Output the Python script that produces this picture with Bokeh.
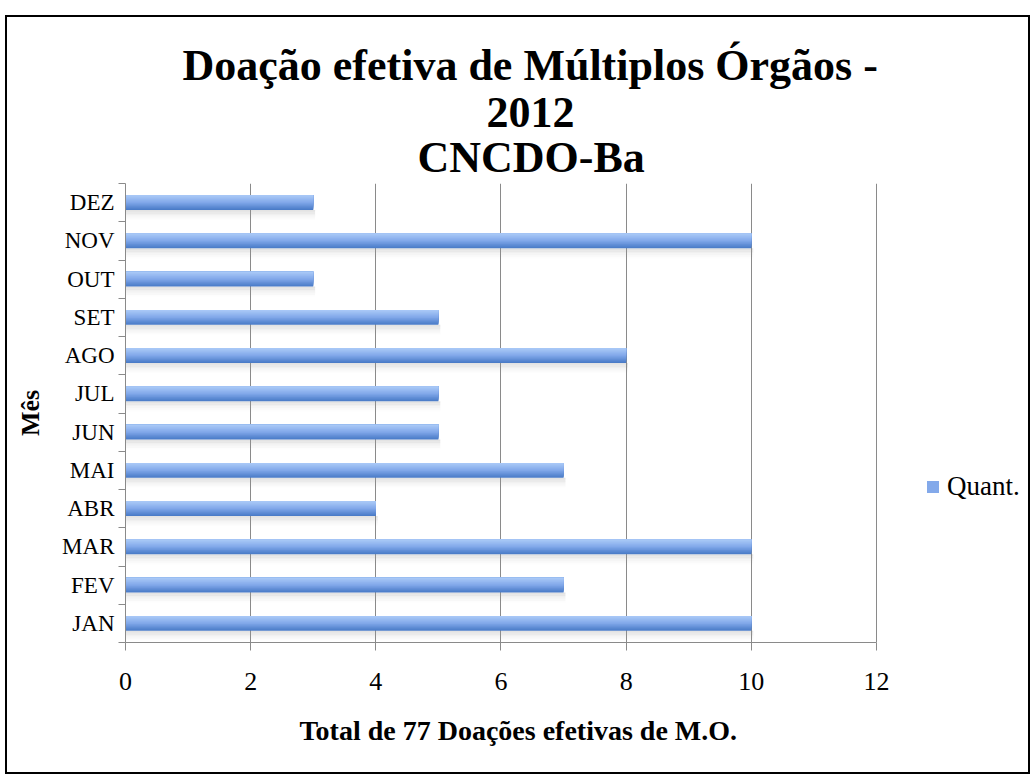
import numpy as np
from bokeh.plotting import figure
from bokeh.models import Range1d, FixedTicker, Title, Legend, LegendItem
from bokeh.embed import file_html
from bokeh.resources import INLINE

# ---- data ----
months = ["JAN", "FEV", "MAR", "ABR", "MAI", "JUN", "JUL", "AGO", "SET", "OUT", "NOV", "DEZ"]
quant = [10, 7, 10, 4, 7, 5, 5, 8, 5, 3, 10, 3]
x_ticks = [0, 2, 4, 6, 8, 10, 12]

title_lines = ["Doação efetiva de Múltiplos Órgãos -", "2012", "CNCDO-Ba"]
x_label = "Total de 77 Doações efetivas de M.O."
y_label = "Mês"
series_name = "Quant."

FONT = "Liberation Serif"
W, H = 1025, 759
GRAY = "#8a8a8a"
X_MAX = 12
X_VIEW_END = 14.365   # frame continues to the right to host the legend

p = figure(width=W, height=H, output_backend="svg", toolbar_location=None,
           x_range=Range1d(0, X_VIEW_END), y_range=Range1d(0, len(months)),
           min_border_left=118, min_border_right=8,
           min_border_top=166, min_border_bottom=134)
p.styles = {"border": "2px solid #000", "box-sizing": "border-box",
            "margin-left": "5px", "margin-top": "15px"}
p.background_fill_color = "white"
p.border_fill_color = "white"
p.outline_line_color = None

y_center = np.arange(len(months)) + 0.5
vals = np.array(quant, dtype=float)

# shadow beneath the bars
bar_h = 0.39
NS = 6
sh_h = 0.26
for k in range(NS):
    yy = y_center - bar_h / 2 - (k + 0.5) * sh_h / NS
    p.hbar(y=yy, right=vals + 0.03, left=0, height=sh_h / NS * 1.05,
           fill_color="#9a9a9a", fill_alpha=0.28 * (1 - k / NS) ** 1.5, line_color=None)

# gradient bars: nested layers (dark bottom first, lighter layers over the top part)
top = np.array([172, 203, 248])
mid = np.array([128, 167, 233])
bot = np.array([70, 120, 197])
N = 16
r_mid = None
bar_top = y_center + bar_h / 2
for k in range(N):
    t = 1 - (k + 0.5) / N  # 1 = bottom, 0 = top
    if t < 0.5:
        c = top + (mid - top) * (t / 0.5)
    else:
        c = mid + (bot - mid) * ((t - 0.5) / 0.5)
    col = "#%02x%02x%02x" % tuple(int(round(v)) for v in c)
    h = bar_h * (N - k) / N
    yy = bar_top - h / 2
    r = p.hbar(y=yy, right=vals, left=0, height=h, fill_color=col, line_color=None)
    if k == N // 2:
        r_mid = r

# grid
p.xgrid.ticker = FixedTicker(ticks=x_ticks)
p.xgrid.grid_line_color = GRAY
p.xgrid.grid_line_width = 1
p.ygrid.visible = False

# x axis
p.xaxis.bounds = (0, X_MAX)
p.xaxis.ticker = FixedTicker(ticks=x_ticks, minor_ticks=[])
p.xaxis.axis_line_color = GRAY
p.xaxis.major_tick_line_color = GRAY
p.xaxis.major_tick_in = 0
p.xaxis.major_tick_out = 8
p.xaxis.major_label_text_font = FONT
p.xaxis.major_label_text_font_size = "26px"
p.xaxis.major_label_text_color = "#000000"
p.xaxis.major_label_standoff = 22

# x axis caption, centred under the chart as in the reference
p.add_layout(Title(text=x_label, align="left", offset=174, text_font=FONT,
                   text_font_size="28px", text_font_style="bold",
                   text_color="#000000", standoff=40), "below")

# y axis
p.yaxis.ticker = FixedTicker(ticks=list(y_center), minor_ticks=list(range(len(months) + 1)))
p.yaxis.major_label_overrides = {float(y): m for y, m in zip(y_center, months)}
p.yaxis.axis_line_color = GRAY
p.yaxis.major_tick_in = 0
p.yaxis.major_tick_out = 0
p.yaxis.minor_tick_in = 0
p.yaxis.minor_tick_out = 7
p.yaxis.minor_tick_line_color = GRAY
p.yaxis.major_label_text_font = FONT
p.yaxis.major_label_text_font_size = "23px"
p.yaxis.major_label_text_color = "#000000"
p.yaxis.major_label_standoff = 4
p.yaxis.axis_label = y_label
p.yaxis.axis_label_text_font = FONT
p.yaxis.axis_label_text_font_style = "bold"
p.yaxis.axis_label_text_font_size = "26px"
p.yaxis.axis_label_text_color = "#000000"
p.yaxis.axis_label_standoff = 14

# titles: figure title is outermost, added titles stack toward the plot
TSIZE = "44px"
p.title.text = title_lines[0]
p.title.align = "left"
p.title.offset = 57
p.title.text_font = FONT
p.title.text_font_size = TSIZE
p.title.text_font_style = "bold"
p.title.text_color = "#000000"
p.title.standoff = 6
for line, off, so in [(title_lines[2], 292, 3), (title_lines[1], 361, 6)]:
    p.add_layout(Title(text=line, align="left", offset=off, text_font=FONT,
                       text_font_size=TSIZE, text_font_style="bold",
                       text_color="#000000", standoff=so), "above")

legend = Legend(items=[LegendItem(label=series_name, renderers=[r_mid])],
                location=(800, 140), orientation="vertical")
legend.label_text_font = FONT
legend.label_text_font_size = "27px"
legend.label_text_color = "#000000"
legend.glyph_width = 15
legend.glyph_height = 15
legend.background_fill_alpha = 0
legend.border_line_color = None
legend.padding = 0
legend.margin = 0
legend.label_standoff = 7
p.add_layout(legend, "center")

open("out.html", "w").write(file_html(p, INLINE))
